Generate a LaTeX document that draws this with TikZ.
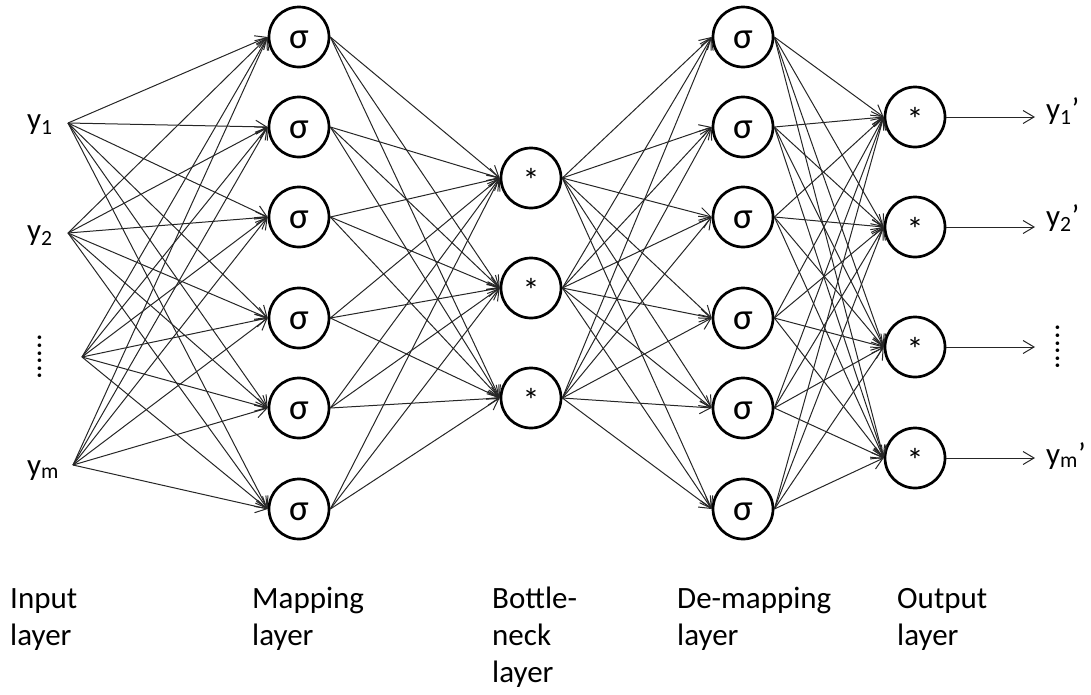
\documentclass[tikz,border=0pt]{standalone}
\usepackage{fontspec}
\setmainfont{Carlito}
\usetikzlibrary{arrows.meta}
\begin{document}
\begin{tikzpicture}[x=1pt,y=-1pt,
  neuron/.style={circle,draw,line width=2.7pt,minimum size=60pt,inner sep=0pt,fill=white},
  sig/.style={neuron,font=\fontsize{37}{40}\selectfont,text height=23pt,text depth=0pt},
  star/.style={neuron,font=\fontsize{34}{40}\selectfont,text height=28pt,text depth=0pt},
  conn/.style={-{Straight Barb[length=11pt,width=13pt,line width=1pt]},line width=1pt,black!85},
  lbl/.style={font=\fontsize{31}{37}\selectfont,anchor=north west,align=left,inner sep=0pt},
  io/.style={font=\fontsize{31}{36}\selectfont,inner sep=0pt,anchor=base west},
  vdots/.style={font=\fontsize{30}{35}\selectfont,inner sep=0pt,rotate=90}]
\useasboundingbox (0,0) rectangle (1091,694);

% input points
\coordinate (i1) at (68,123);
\coordinate (i2) at (68,233);
\coordinate (i3) at (82,357);
\coordinate (i4) at (73,465);
\node[io] (li1) at (27,129) {y\textsubscript{1}};
\node[io] (li2) at (27,240) {y\textsubscript{2}};
\node[vdots] (li3) at (40,357) {......};
\node[io] (li4) at (27,475) {y\textsubscript{m}};

% mapping layer
\foreach \n/\y in {1/37,2/127,3/217,4/318,5/408,6/509}
  \node[sig] (m\n) at (299,\y) {σ};
% bottleneck
\foreach \n/\y in {1/178,2/288,3/398}
  \node[star] (b\n) at (531,\y) {*};
% de-mapping
\foreach \n/\y in {1/37,2/127,3/217,4/318,5/408,6/509}
  \node[sig] (d\n) at (743,\y) {σ};
% output
\foreach \n/\y in {1/117,2/227,3/347,4/458}
  \node[star] (o\n) at (915,\y) {*};

% connections
\foreach \i in {i1,i2,i3,i4}
  \foreach \j in {1,...,6}
    \draw[conn] (\i) -- (m\j.west);
\foreach \i in {1,...,6}
  \foreach \j in {1,2,3}
    \draw[conn] (m\i.east) -- (b\j.west);
\foreach \i in {1,2,3}
  \foreach \j in {1,...,6}
    \draw[conn] (b\i.east) -- (d\j.west);
\foreach \i in {1,...,6}
  \foreach \j in {1,...,4}
    \draw[conn] (d\i.east) -- (o\j.west);

% outputs
\foreach \n/\y in {1/117,2/227,3/347,4/458}
  \coordinate (e\n) at (1035,\y);
\foreach \n in {1,...,4}
  \draw[conn] (o\n.east) -- (e\n);
\node[io] (lo1) at (1046,119) {y\textsubscript{1}’};
\node[io] (lo2) at (1046,226) {y\textsubscript{2}’};
\node[vdots] (lo3) at (1058,347) {......};
\node[io] (lo4) at (1046,464) {y\textsubscript{m}’};

% layer labels
\node[lbl] (t1) at (10,582) {\strut Input\\layer};
\node[lbl] (t2) at (252,582) {\strut Mapping\\layer};
\node[lbl] (t3) at (492,582) {\strut Bottle-\\neck\\layer};
\node[lbl] (t4) at (677,582) {\strut De-mapping\\layer};
\node[lbl] (t5) at (897,582) {\strut Output\\layer};
\end{tikzpicture}
\end{document}
